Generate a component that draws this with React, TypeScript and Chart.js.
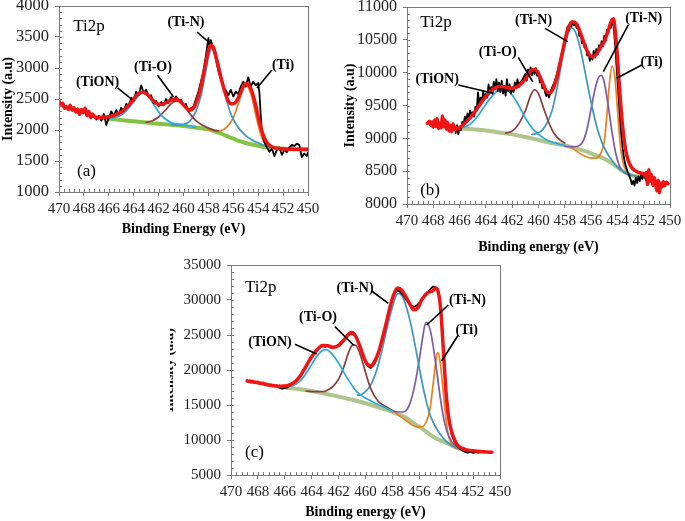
import React, { useEffect, useRef } from "react";
import { Chart, registerables } from "chart.js";
Chart.register(...registerables);

type P = [number, number];

// ---------------- Panel (a) ----------------
const aFit: P[] = [
  [470, 2470], [469.85, 2400], [469.7, 2430], [469.55, 2350], [469.4, 2380], [469.25, 2330], [469.1, 2400],
  [468.95, 2320], [468.8, 2360], [468.65, 2290], [468.5, 2340], [468.35, 2250], [468.2, 2330], [468.05, 2280],
  [467.9, 2350], [467.75, 2230], [467.6, 2300], [467.45, 2200], [467.3, 2260], [467.15, 2210], [467.0, 2200],
  [466.5, 2205], [466, 2215], [465.5, 2240], [465, 2290], [464.5, 2380], [464, 2500], [463.6, 2590], [463.3, 2610],
  [463, 2590], [462.6, 2510], [462.2, 2430], [461.8, 2410], [461.4, 2440], [461, 2480], [460.6, 2500], [460.2, 2450],
  [459.8, 2360], [459.5, 2320], [459.2, 2350], [458.9, 2480], [458.6, 2700], [458.3, 3000], [458, 3280], [457.8, 3370],
  [457.6, 3330], [457.3, 3100], [457, 2850], [456.7, 2630], [456.4, 2470], [456.1, 2420], [455.8, 2450], [455.5, 2560],
  [455.2, 2700], [455, 2750], [454.8, 2740], [454.5, 2620], [454.2, 2400], [453.9, 2130], [453.6, 1920], [453.3, 1800],
  [453, 1740], [452.5, 1705], [452, 1695], [451, 1690], [450, 1690],
];
const aRaw: P[] = [
  [467, 2170], [466.8, 2230], [466.6, 2150], [466.4, 2260], [466.2, 2080], [466.0, 2200], [465.8, 2300], [465.6, 2220],
  [465.4, 2320], [465.2, 2250], [465.0, 2360], [464.8, 2300], [464.6, 2420], [464.4, 2380], [464.2, 2520], [464.0, 2470],
  [463.8, 2620], [463.6, 2560], [463.4, 2720], [463.2, 2600], [463.0, 2650], [462.8, 2540], [462.6, 2560], [462.4, 2430],
  [462.2, 2470], [462.0, 2380], [461.8, 2450], [461.6, 2400], [461.4, 2500], [461.2, 2440], [461.0, 2530], [460.8, 2470],
  [460.6, 2540], [460.4, 2480], [460.2, 2490], [460.0, 2400], [459.8, 2420], [459.6, 2300], [459.4, 2350], [459.2, 2380],
  [459.0, 2500], [458.8, 2620], [458.6, 2780], [458.4, 2950], [458.2, 3200], [458.0, 3480], [457.9, 3350], [457.8, 3450],
  [457.6, 3300], [457.4, 3150], [457.2, 2950], [457.0, 2820], [456.8, 2700], [456.6, 2640], [456.4, 2560], [456.2, 2650],
  [456.0, 2540], [455.8, 2620], [455.6, 2580], [455.4, 2700], [455.2, 2780], [455.0, 2700], [454.8, 2850], [454.6, 2700],
  [454.4, 2780], [454.2, 2720], [454.0, 2760], [453.9, 2600], [453.8, 2250], [453.7, 1950], [453.5, 1800], [453.3, 1720],
  [453.1, 1650], [452.9, 1700], [452.7, 1580], [452.5, 1680], [452.3, 1720], [452.1, 1600], [451.9, 1680], [451.7, 1640],
  [451.5, 1720], [451.3, 1760], [451.1, 1740], [450.9, 1780], [450.7, 1760], [450.5, 1560], [450.3, 1620], [450.1, 1580],
  [450, 1640],
];
const aBg: P[] = [
  [467, 2200], [466, 2180], [465, 2160], [464, 2140], [463, 2120], [462, 2100], [461, 2085], [460, 2065], [459, 2040],
  [458, 2010], [457.5, 1980], [457, 1945], [456.5, 1900], [456, 1860], [455.5, 1820], [455, 1790], [454.5, 1765],
  [454, 1745], [453.5, 1725], [453, 1712], [452, 1700], [451, 1690], [450, 1685],
];
const aTiON: P[] = [
  [467, 2200], [466, 2185], [465.5, 2200], [465, 2240], [464.5, 2330], [464, 2450], [463.6, 2560], [463.3, 2600],
  [463, 2580], [462.6, 2480], [462.2, 2350], [461.8, 2240], [461.4, 2170], [461, 2120], [460.5, 2095], [460, 2085],
  [459.5, 2060], [459, 2040],
];
const aTiO: P[] = [
  [463, 2125], [462.5, 2150], [462, 2210], [461.5, 2310], [461, 2420], [460.6, 2470], [460.2, 2440], [459.8, 2350],
  [459.4, 2240], [459, 2150], [458.5, 2080], [458, 2030], [457.5, 1995], [457.2, 1985],
];
const aTiN: P[] = [
  [461, 2085], [460.5, 2080], [460, 2090], [459.5, 2140], [459, 2300], [458.6, 2550], [458.3, 2850], [458, 3170],
  [457.8, 3320], [457.65, 3350], [457.4, 3250], [457.1, 3000], [456.8, 2700], [456.5, 2450], [456.2, 2260],
  [455.8, 2100], [455.4, 1990], [455, 1910], [454.5, 1840], [454, 1790], [453.5, 1750], [453, 1720], [452.5, 1705],
];
const aTi: P[] = [
  [458, 2010], [457.5, 1985], [457, 1990], [456.5, 2050], [456, 2200], [455.6, 2420], [455.3, 2620], [455.05, 2720],
  [454.8, 2690], [454.5, 2520], [454.2, 2250], [453.9, 2000], [453.6, 1830], [453.3, 1760], [453, 1725], [452.5, 1705],
];

// ---------------- Panel (b) ----------------
const bFit: P[] = [
  [468.45, 9230], [468.3, 9260], [468.2, 9200], [468.1, 9250], [468.0, 9170], [467.9, 9280], [467.8, 9180],
  [467.7, 9300], [467.6, 9150], [467.5, 9230], [467.4, 9160], [467.3, 9340], [467.2, 9180], [467.1, 9280],
  [467.0, 9140], [466.9, 9240], [466.8, 9110], [466.7, 9200], [466.6, 9100], [466.5, 9220], [466.4, 9130],
  [466.3, 9170], [466.2, 9140], [466, 9160], [465.5, 9250], [465, 9360], [464.5, 9500], [464, 9640], [463.5, 9740],
  [463, 9790], [462.5, 9780], [462, 9760], [461.5, 9800], [461, 9900], [460.6, 10020], [460.3, 10050], [460, 9990],
  [459.7, 9850], [459.4, 9720], [459.15, 9690], [458.9, 9750], [458.6, 9930], [458.3, 10200], [458, 10480],
  [457.7, 10700], [457.4, 10775], [457.1, 10740], [456.8, 10600], [456.5, 10430], [456.2, 10290], [455.9, 10240],
  [455.6, 10280], [455.3, 10380], [455, 10470], [454.7, 10640], [454.45, 10790], [454.3, 10820], [454.15, 10600],
  [454, 10250], [453.85, 9800], [453.7, 9400], [453.5, 9000], [453.3, 8750], [453, 8580], [452.6, 8500],
  [452.2, 8470], [452, 8460], [451.9, 8430], [451.8, 8480], [451.7, 8300], [451.6, 8520], [451.5, 8350],
  [451.4, 8450], [451.3, 8280], [451.2, 8400], [451.1, 8320], [451.0, 8200], [450.9, 8360], [450.8, 8170],
  [450.7, 8320], [450.6, 8260], [450.5, 8340], [450.4, 8280], [450.3, 8330], [450.15, 8310],
];
const bRaw: P[] = [
  [466.3, 9080], [466.2, 9200], [466.1, 9060], [466.0, 9180], [465.9, 9120], [465.8, 9250], [465.7, 9200],
  [465.6, 9330], [465.5, 9260], [465.4, 9380], [465.3, 9300], [465.2, 9420], [465.1, 9350], [465.0, 9400],
  [464.9, 9330], [464.8, 9480], [464.7, 9420], [464.6, 9700], [464.5, 9500], [464.4, 9620], [464.3, 9550],
  [464.2, 9720], [464.1, 9600], [464.0, 9680], [463.9, 9620], [463.8, 9820], [463.7, 9700], [463.6, 9780],
  [463.5, 9680], [463.4, 9860], [463.3, 9750], [463.2, 9900], [463.1, 9720], [463.0, 9850], [462.9, 9700],
  [462.8, 9880], [462.7, 9680], [462.6, 9800], [462.5, 9650], [462.4, 9900], [462.3, 9720], [462.2, 9820],
  [462.1, 9680], [462.0, 9780], [461.9, 9700], [461.8, 9850], [461.7, 9760], [461.6, 9900], [461.5, 9780],
  [461.4, 9850], [461.2, 9900], [461.0, 9980], [460.9, 9880], [460.8, 10050], [460.7, 9950], [460.6, 10080],
  [460.5, 9960], [460.4, 10060], [460.3, 9980], [460.2, 10070], [460.1, 9950], [460.0, 10020], [459.9, 9850],
  [459.8, 9880], [459.7, 9760], [459.6, 9800], [459.5, 9700], [459.4, 9640], [459.3, 9720], [459.2, 9620],
  [459.1, 9700], [459.0, 9760], [458.8, 9850], [458.6, 9980], [458.4, 10150], [458.2, 10320], [458.0, 10500],
  [457.9, 10580], [457.8, 10700], [457.7, 10640], [457.6, 10760], [457.5, 10700], [457.4, 10780], [457.3, 10720],
  [457.2, 10760], [457.1, 10680], [457.0, 10720], [456.9, 10560], [456.8, 10620], [456.7, 10450], [456.6, 10500],
  [456.5, 10380], [456.4, 10420], [456.3, 10260], [456.2, 10330], [456.1, 10180], [456.0, 10260], [455.9, 10200],
  [455.8, 10330], [455.7, 10230], [455.6, 10360], [455.5, 10280], [455.4, 10420], [455.3, 10350], [455.2, 10480],
  [455.1, 10400], [455.0, 10560], [454.9, 10480], [454.8, 10650], [454.7, 10600], [454.6, 10720], [454.5, 10680],
  [454.4, 10760], [454.3, 10740], [454.2, 10500], [454.1, 10200], [454.0, 9900], [453.9, 9600], [453.8, 9300],
  [453.7, 9050], [453.6, 8850], [453.5, 8700], [453.4, 8600], [453.3, 8540], [453.2, 8480], [453.1, 8430],
  [453.0, 8380], [452.9, 8300], [452.8, 8350], [452.7, 8280], [452.6, 8400], [452.5, 8320], [452.4, 8420],
  [452.3, 8350], [452.2, 8450], [452.1, 8380], [452.0, 8470], [451.9, 8400], [451.8, 8350], [451.7, 8420],
  [451.6, 8380],
];
const bBg: P[] = [
  [466, 9150], [465, 9140], [464, 9120], [463, 9090], [462, 9060], [461, 9020], [460, 8975], [459, 8930],
  [458, 8890], [457, 8840], [456, 8770], [455, 8690], [454.5, 8630], [454, 8560], [453.5, 8490], [453, 8440],
  [452.5, 8420], [452, 8410],
];
const bTiON: P[] = [
  [466, 9150], [465.5, 9180], [465, 9250], [464.5, 9370], [464, 9520], [463.5, 9650], [463, 9740], [462.7, 9760],
  [462.4, 9740], [462, 9660], [461.5, 9500], [461, 9310], [460.5, 9160], [460, 9060], [459.5, 8990], [459, 8945],
  [458.5, 8915], [458, 8890],
];
const bTiO: P[] = [
  [462.5, 9080], [462, 9110], [461.5, 9220], [461, 9420], [460.6, 9650], [460.3, 9740], [460, 9680], [459.6, 9450],
  [459.2, 9230], [458.8, 9070], [458.4, 8980], [458, 8930],
];
const bTiN1: P[] = [
  [460.5, 9060], [460, 9080], [459.5, 9180], [459, 9400], [458.6, 9750], [458.2, 10200], [457.8, 10560],
  [457.5, 10680], [457.2, 10620], [456.8, 10350], [456.4, 9950], [456, 9550], [455.6, 9200], [455.2, 8950],
  [454.8, 8780], [454.4, 8660], [454, 8560], [453.5, 8490], [453, 8445], [452.5, 8420],
];
const bTiN2: P[] = [
  [458, 8880], [457.5, 8870], [457, 8880], [456.6, 8960], [456.3, 9150], [456, 9450], [455.7, 9750], [455.4, 9940],
  [455.2, 9960], [455, 9850], [454.7, 9500], [454.4, 9080], [454.1, 8750], [453.8, 8560], [453.5, 8480], [453, 8440],
];
const bTi: P[] = [
  [457.5, 8860], [457, 8790], [456.5, 8730], [456, 8700], [455.6, 8700], [455.3, 8760], [455, 8950], [454.8, 9350],
  [454.6, 9850], [454.4, 10100], [454.2, 9950], [454, 9450], [453.8, 8950], [453.6, 8650], [453.3, 8500], [453, 8450],
];

// ---------------- Panel (c) ----------------
const cFit: P[] = [
  [468.8, 18450], [468.7, 18350], [468.6, 18420], [468.5, 18300], [468.4, 18380], [468.3, 18250], [468.2, 18300],
  [468.1, 18200], [468.0, 18250], [467.9, 18100], [467.8, 18150], [467.7, 18050], [467.6, 18100], [467.5, 17950],
  [467.4, 18000], [467.3, 17850], [467.2, 17900], [467.1, 17800], [467.0, 17850], [466.9, 17750], [466.8, 17800],
  [466.7, 17700], [466.6, 17750], [466.5, 17650], [466.4, 17700], [466.3, 17650], [466.2, 17700], [466.0, 17700],
  [465.6, 17900], [465.2, 18400], [464.8, 19300], [464.4, 20600], [464, 21900], [463.6, 22900], [463.2, 23500],
  [462.8, 23450], [462.4, 23250], [462, 23500], [461.6, 24300], [461.2, 25200], [461, 25350], [460.7, 24700],
  [460.4, 23300], [460.1, 21700], [459.8, 20700], [459.6, 20600], [459.3, 21300], [459, 22700], [458.6, 25600],
  [458.2, 28800], [457.9, 30800], [457.6, 31700], [457.3, 31400], [457, 30500], [456.7, 29400], [456.4, 28600],
  [456.1, 28900], [455.8, 30100], [455.4, 31000], [455, 31300], [454.8, 31700], [454.6, 31200], [454.4, 28500],
  [454.2, 22500], [454, 16500], [453.8, 13000], [453.5, 10600], [453.2, 9400], [452.8, 8800], [452.4, 8550],
  [452, 8450], [451.5, 8350], [451, 8300], [450.6, 8250],
];
const cRaw: P[] = [
  [466.4, 17500], [466.2, 17350], [466.0, 17450], [465.8, 17500], [465.6, 17800], [465.4, 18100], [465.2, 18300],
  [465.0, 18700], [464.8, 19200], [464.6, 19900], [464.4, 20500], [464.2, 21300], [464.0, 21900], [463.8, 22500],
  [463.6, 22800], [463.4, 23300], [463.2, 23400], [463.0, 23300], [462.8, 23500], [462.6, 23200], [462.4, 23100],
  [462.2, 23300], [462.0, 23600], [461.8, 24000], [461.6, 24400], [461.4, 24900], [461.2, 25200], [461.0, 25100],
  [460.8, 25000], [460.6, 24300], [460.4, 23200], [460.2, 22000], [460.0, 21000], [459.8, 20500], [459.6, 20300],
  [459.4, 20700], [459.2, 21400], [459.0, 22500], [458.8, 23900], [458.6, 25400], [458.4, 27200], [458.2, 28900],
  [458.0, 30100], [457.8, 31000], [457.6, 31400], [457.4, 31100], [457.2, 30700], [457.0, 30100], [456.8, 29700],
  [456.6, 29300], [456.4, 29000], [456.2, 29200], [456.0, 29600], [455.8, 30200], [455.6, 30700], [455.4, 31100],
  [455.2, 31500], [455.0, 31900], [454.8, 31800], [454.6, 31400], [454.4, 29000], [454.2, 23000], [454.0, 16800],
  [453.8, 12800], [453.6, 10800], [453.4, 9800], [453.2, 9200], [453.0, 8800], [452.8, 8500], [452.6, 8300],
  [452.4, 8200], [452.2, 8350], [452.0, 8150], [451.8, 8250], [451.6, 8200], [451.4, 8300], [451.2, 8250],
  [451.0, 8300],
];
const cBg: P[] = [
  [466.4, 17550], [466, 17500], [465, 17300], [464, 17000], [463, 16600], [462, 16200], [461, 15750], [460, 15250],
  [459, 14650], [458, 14000], [457, 13200], [456.5, 12500], [456, 11900], [455.5, 11200], [455, 10500],
  [454.5, 10000], [454, 9600], [453.5, 9100], [453, 8700], [452.5, 8500], [452.2, 8450],
];
const cTiON: P[] = [
  [466.2, 17550], [465.5, 17700], [465, 18200], [464.5, 19300], [464, 20800], [463.6, 22000], [463.2, 22800],
  [462.9, 22900], [462.5, 22300], [462, 21000], [461.5, 19300], [461, 17800], [460.6, 16800], [460.2, 16200],
  [459.8, 15800], [459.4, 15400], [459, 15000], [458.5, 14600], [458, 14100],
];
const cTiO: P[] = [
  [464.4, 17000], [463.8, 16900], [463.2, 16900], [462.8, 17150], [462.4, 17700], [462, 18700], [461.6, 20500],
  [461.3, 22300], [461, 23500], [460.8, 23600], [460.5, 22800], [460.2, 21000], [459.9, 19000], [459.6, 17300],
  [459.3, 16200], [459, 15400], [458.6, 14900], [458.2, 14400], [458, 14100],
];
const cTiN1: P[] = [
  [460.6, 16400], [460.3, 16500], [460, 16900], [459.6, 17900], [459.2, 19800], [458.8, 22600], [458.4, 26000],
  [458, 29000], [457.7, 30700], [457.5, 30900], [457.2, 30300], [456.9, 28600], [456.6, 26300], [456.3, 23400],
  [456, 20300], [455.6, 16500], [455.2, 13600], [454.8, 11900], [454.4, 10700], [454, 9800], [453.6, 9200],
  [453.2, 8850], [452.8, 8600], [452.4, 8480],
];
const cTiN2: P[] = [
  [458.4, 14500], [458, 14200], [457.6, 14000], [457.2, 14000], [456.9, 14400], [456.6, 15800], [456.3, 18200],
  [456, 21500], [455.8, 24000], [455.6, 26300], [455.45, 26800], [455.2, 25800], [455, 23800], [454.7, 19800],
  [454.4, 15500], [454.1, 12300], [453.8, 10500], [453.4, 9300], [453, 8800], [452.6, 8550],
];
const cTi: P[] = [
  [458.4, 14600], [458, 14200], [457.5, 13500], [457, 12800], [456.5, 12100], [456.1, 11850], [455.8, 11900],
  [455.5, 12500], [455.2, 14500], [455, 17500], [454.8, 20800], [454.65, 22500], [454.5, 21800], [454.3, 18500],
  [454.1, 14500], [453.9, 11300], [453.7, 9800], [453.4, 9000], [453, 8700], [452.6, 8550],
];

// ---------------- axis ----------------
const xTicksMin = 450;
const xTicksMax = 470;

const FONT = "'Liberation Serif', 'Times New Roman', serif";
const C_RED = "#f01414";
const C_CYAN = "#27a9e1";
const C_TEAL = "#3b97bd";
const C_BROWN = "#8e3b3b";
const C_PURPLE = "#7d5ba6";
const C_ORANGE = "#f07d1a";
const AXIS = "#7a7a7a";

type Label = { text: string; e: number; i: number; bold: boolean; size: number; align: CanvasTextAlign };
type Leader = [number, number, number, number];
type Comp = { data: P[]; color: string };

interface PanelCfg {
  fit: P[]; raw: P[]; bg: P[]; bgColor: string; comps: Comp[];
  yMin: number; yMax: number; yStep: number; yMinor: number;
  xTitle: string;
  labels: Label[]; leaders: Leader[];
  W: number; H: number; pad: { left: number; top: number; right: number; bottom: number };
  yW: number; xH: number; yTitlePad: number; yFont: number;
}

const tag = (text: string, e: number, i: number): Label => ({ text, e, i, bold: true, size: 14, align: "center" });
const plain = (text: string, e: number, i: number): Label => ({ text, e, i, bold: false, size: 17, align: "left" });

const panelA: PanelCfg = {
  fit: aFit, raw: aRaw, bg: aBg, bgColor: "#84c243",
  comps: [
    { data: aTiON, color: C_CYAN }, { data: aTiO, color: C_BROWN },
    { data: aTiN, color: C_TEAL }, { data: aTi, color: C_ORANGE },
  ],
  yMin: 1000, yMax: 4000, yStep: 500, yMinor: 100,
  xTitle: "Binding Energy (eV)",
  labels: [
    plain("Ti2p", 468.85, 3670), plain("(a)", 468.55, 1323),
    tag("(TiON)", 466.9, 2774), tag("(Ti-O)", 462.45, 3016), tag("(Ti-N)", 459.8, 3742), tag("(Ti)", 452.0, 3048),
  ],
  leaders: [
    [465.3, 2680, 464.1, 2484], [462.1, 2887, 460.8, 2532], [458.9, 3580, 457.9, 3403], [452.9, 2968, 454.1, 2677],
  ],
  W: 340, H: 250, pad: { left: 0, top: 6, right: 32, bottom: 12 }, yW: 59, xH: 46, yTitlePad: 0, yFont: 16.5,
};

const panelB: PanelCfg = {
  fit: bFit, raw: bRaw, bg: bBg, bgColor: "#aec68e",
  comps: [
    { data: bTiON, color: C_CYAN }, { data: bTiO, color: C_BROWN }, { data: bTiN1, color: C_TEAL },
    { data: bTiN2, color: C_PURPLE }, { data: bTi, color: C_ORANGE },
  ],
  yMin: 8000, yMax: 11000, yStep: 500, yMinor: 100,
  xTitle: "Binding energy (eV)",
  labels: [
    plain("Ti2p", 469.0, 10771), plain("(b)", 469.0, 8198),
    tag("(TiON)", 467.7, 9903), tag("(Ti-O)", 463.1, 10315), tag("(Ti-N)", 460.38, 10802),
    tag("(Ti-N)", 452.0, 10832), tag("(Ti)", 451.4, 10162),
  ],
  leaders: [
    [466.1, 9812, 463.44, 9686], [461.54, 10234, 460.44, 9862], [459.5, 10675, 457.78, 10472],
    [453.17, 10726, 455.07, 10015], [452.15, 10117, 454.05, 9914],
  ],
  W: 345, H: 260, pad: { left: 0, top: 7, right: 15, bottom: 4 }, yW: 67, xH: 52, yTitlePad: 1.5, yFont: 16,
};

const panelC: PanelCfg = {
  fit: cFit, raw: cRaw, bg: cBg, bgColor: "#aec68e",
  comps: [
    { data: cTiON, color: C_CYAN }, { data: cTiO, color: C_BROWN }, { data: cTiN1, color: C_TEAL },
    { data: cTiN2, color: C_PURPLE }, { data: cTi, color: C_ORANGE },
  ],
  yMin: 5000, yMax: 35000, yStep: 5000, yMinor: 1000,
  xTitle: "Binding energy (eV)",
  labels: [
    plain("Ti2p", 468.96, 31714), plain("(c)", 468.96, 8143),
    tag("(TiON)", 467.1, 24000), tag("(Ti-O)", 463.53, 27571), tag("(Ti-N)", 460.78, 31714),
    tag("(Ti-N)", 452.42, 30000), tag("(Ti)", 452.48, 25714),
  ],
  leaders: [
    [465.24, 23670, 463.63, 22286], [462.27, 26190, 460.9, 23571], [459.54, 31286, 458.3, 29524],
    [453.84, 29286, 455.45, 26428], [453.1, 25000, 454.34, 21286],
  ],
  W: 372, H: 266, pad: { left: 0, top: 10, right: 30, bottom: 0 }, yW: 73, xH: 46, yTitlePad: 2.5, yFont: 15,
};

const toXY = (arr: P[]) => arr.map(([x, y]) => ({ x, y }));

function Panel({ cfg }: { cfg: PanelCfg }) {
  const ref = useRef<HTMLCanvasElement | null>(null);
  useEffect(() => {
    if (!ref.current) return;
    const decor = {
      id: "decor",
      afterDraw(chart: any) {
        const { ctx, chartArea } = chart;
        const { left, right, top, bottom } = chartArea;
        const xs = chart.scales.x;
        const ys = chart.scales.y;
        ctx.save();
        ctx.strokeStyle = AXIS;
        ctx.lineWidth = 1;
        ctx.strokeRect(Math.round(left) + 0.5, Math.round(top) + 0.5, Math.round(right - left), Math.round(bottom - top));
        ctx.beginPath();
        const nx = Math.round((xTicksMax - xTicksMin) / 0.4);
        for (let k = 0; k <= nx; k++) {
          const px = Math.round(xs.getPixelForValue(xTicksMin + k * 0.4)) + 0.5;
          ctx.moveTo(px, bottom);
          ctx.lineTo(px, bottom - 3);
        }
        const ny = Math.round((cfg.yMax - cfg.yMin) / cfg.yMinor);
        for (let k = 0; k <= ny; k++) {
          const py = Math.round(ys.getPixelForValue(cfg.yMin + k * cfg.yMinor)) + 0.5;
          ctx.moveTo(left, py);
          ctx.lineTo(left + 3, py);
        }
        ctx.stroke();
        // leader lines
        ctx.strokeStyle = "#000";
        ctx.lineWidth = 1.6;
        ctx.beginPath();
        for (const [e1, i1, e2, i2] of cfg.leaders) {
          ctx.moveTo(xs.getPixelForValue(e1), ys.getPixelForValue(i1));
          ctx.lineTo(xs.getPixelForValue(e2), ys.getPixelForValue(i2));
        }
        ctx.stroke();
        ctx.fillStyle = "#000";
        ctx.textBaseline = "middle";
        for (const l of cfg.labels) {
          ctx.font = `${l.bold ? "bold " : ""}${l.size}px ${FONT}`;
          ctx.textAlign = l.align;
          ctx.fillText(l.text, xs.getPixelForValue(l.e), ys.getPixelForValue(l.i));
        }
        ctx.restore();
      },
    };
    const line = (data: P[], color: string, width: number, smooth: boolean) => ({
      data: toXY(data),
      borderColor: color,
      backgroundColor: color,
      borderWidth: width,
      pointRadius: 0,
      fill: false,
      tension: 0,
      cubicInterpolationMode: smooth ? "monotone" : "default",
      borderJoinStyle: "round",
      borderCapStyle: "round",
    });
    const chart = new Chart(ref.current, {
      type: "line",
      data: {
        datasets: [
          line(cfg.fit, C_RED, 3.5, true),
          line(cfg.raw, "#000000", 1.8, false),
          ...cfg.comps.map((c) => line(c.data, c.color, 1.7, true)),
          line(cfg.bg, cfg.bgColor, 4, true),
        ] as any,
      },
      options: {
        responsive: false,
        animation: false,
        events: [],
        layout: { padding: cfg.pad },
        plugins: { legend: { display: false }, tooltip: { enabled: false } },
        scales: {
          x: {
            type: "linear",
            min: xTicksMin,
            max: xTicksMax,
            reverse: true,
            afterFit: (s: any) => { s.height = cfg.xH; s.paddingLeft = 0; s.paddingRight = 0; },
            grid: { display: true, drawOnChartArea: false, drawTicks: true, tickLength: 4, color: AXIS },
            border: { display: true, color: AXIS },
            ticks: {
              stepSize: 2, autoSkip: false, maxRotation: 0, minRotation: 0, padding: 4,
              color: "#222", font: { family: FONT, size: 15 },
              callback: (v: any) => `${v}`,
            },
            title: {
              display: true, text: cfg.xTitle, color: "#000",
              font: { family: FONT, size: 14, weight: "bold" }, padding: { top: 0, bottom: 0 },
            },
          },
          y: {
            type: "linear",
            min: cfg.yMin,
            max: cfg.yMax,
            afterFit: (s: any) => { s.width = cfg.yW; s.paddingTop = 0; s.paddingBottom = 0; },
            grid: { display: true, drawOnChartArea: false, drawTicks: true, tickLength: 4, color: AXIS },
            border: { display: true, color: AXIS },
            ticks: {
              stepSize: cfg.yStep, autoSkip: false, padding: 6,
              color: "#222", font: { family: FONT, size: cfg.yFont },
              callback: (v: any) => `${v}`,
            },
            title: {
              display: true, text: "Intensity (a.u)", color: "#000",
              font: { family: FONT, size: 14, weight: "bold" }, padding: { top: cfg.yTitlePad, bottom: 0 },
            },
          },
        },
      } as any,
      plugins: [decor],
    });
    return () => chart.destroy();
  }, [cfg]);
  return <canvas ref={ref} width={cfg.W} height={cfg.H} style={{ width: cfg.W, height: cfg.H, display: "block" }} />;
}

export default function App() {
  return (
    <div style={{ position: "absolute", left: 0, top: 0, width: 685, height: 521, background: "#fff", overflow: "hidden" }}>
      <div style={{ position: "absolute", left: 0, top: 0 }}>
        <Panel cfg={panelA} />
      </div>
      <div style={{ position: "absolute", left: 340, top: 0 }}>
        <Panel cfg={panelB} />
      </div>
      <div style={{ position: "absolute", left: 170, top: 255, width: 360, height: 266, overflow: "hidden" }}>
        <div style={{ position: "absolute", left: -12, top: 0 }}>
          <Panel cfg={panelC} />
        </div>
      </div>
    </div>
  );
}
